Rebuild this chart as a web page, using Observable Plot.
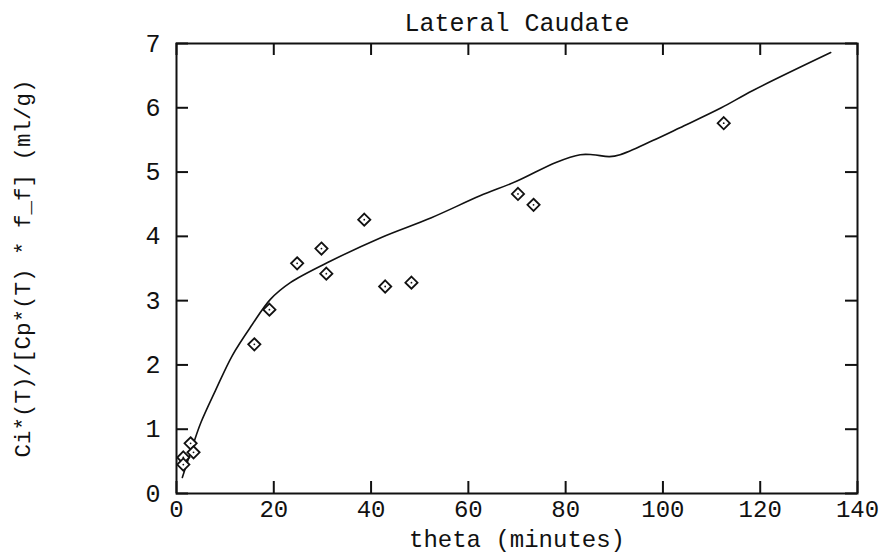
<!DOCTYPE html>
<html>
<head>
<meta charset="utf-8">
<script src="https://cdn.jsdelivr.net/npm/d3@7"></script>
<script src="https://cdn.jsdelivr.net/npm/@observablehq/plot@0.6"></script>
<style>
  html, body { margin: 0; padding: 0; background: #fff; }
  #chart svg { display: block; }
</style>
</head>
<body>
<div id="chart"></div>
<script>
const titleText = "Lateral Caudate";
const xLabel = "theta (minutes)";
const yLabel = "Ci*(T)/[Cp*(T) * f_f] (ml/g)";

const xTicks = [0, 20, 40, 60, 80, 100, 120, 140];
const yTicks = [0, 1, 2, 3, 4, 5, 6, 7];

// observed points
const obsTheta = [1.4, 1.4, 2.9, 3.5, 16.0, 19.1, 24.8, 29.8, 30.8, 38.6, 42.9, 48.3, 70.2, 73.4, 112.5];
const obsValue = [0.56, 0.45, 0.78, 0.64, 2.32, 2.86, 3.58, 3.81, 3.42, 4.26, 3.22, 3.28, 4.66, 4.49, 5.76];

// fitted curve
const fitTheta = [1.2, 2.5, 3.5, 5.0, 8.0, 11.5, 15.5, 19.3, 23.4, 31.8, 42.0, 52.4, 62.4, 70.0, 78.0, 83.0, 85.6, 89.0, 91.2, 97.9, 103.5, 112.0, 118.5, 134.5];
const fitValue = [0.25, 0.55, 0.78, 1.10, 1.60, 2.15, 2.62, 3.02, 3.28, 3.62, 3.98, 4.29, 4.63, 4.86, 5.15, 5.27, 5.27, 5.24, 5.27, 5.49, 5.69, 6.00, 6.27, 6.86];

const obs = obsTheta.map((x, i) => ({x, y: obsValue[i]}));
const fit = fitTheta.map((x, i) => ({x, y: fitValue[i]}));

const W = 881, H = 554;
const mL = 176, mR = 24, mT = 43, mB = 61;
const fw = W - mL - mR, fh = H - mT - mB;
const tk = 12;

const chart = Plot.plot({
  width: W,
  height: H,
  marginLeft: mL,
  marginRight: mR,
  marginTop: mT,
  marginBottom: mB,
  style: {fontFamily: "'Liberation Mono', 'DejaVu Sans Mono', monospace", fontSize: "24px", color: "#111", background: "#fff"},
  x: {domain: [0, 140]},
  y: {domain: [0, 7]},
  marks: [
    Plot.frame({stroke: "#111", strokeWidth: 2}),
    Plot.axisX(xTicks, {anchor: "bottom", tickSize: 0, tickPadding: 6, fontSize: 24, tickFormat: d3.format("d"), label: null}),
    Plot.text([xLabel], {frameAnchor: "bottom", dy: 46, textAnchor: "middle", lineAnchor: "middle", fontSize: 24, fill: "#111"}),
    Plot.axisY(yTicks, {anchor: "left", tickSize: 0, tickPadding: 16, fontSize: 25, tickFormat: d3.format("d"), label: null}),
    Plot.text([yLabel], {frameAnchor: "left", dx: -154, rotate: -90, textAnchor: "middle", lineAnchor: "middle", fontSize: 22.5, fill: "#111"}),
    Plot.tickX(xTicks, {x: d => d, insetTop: fh - tk, stroke: "#111", strokeWidth: 2}),
    Plot.tickX(xTicks, {x: d => d, insetBottom: fh - tk, stroke: "#111", strokeWidth: 2}),
    Plot.tickY(yTicks, {y: d => d, insetRight: fw - tk, stroke: "#111", strokeWidth: 2}),
    Plot.tickY(yTicks, {y: d => d, insetLeft: fw - tk, stroke: "#111", strokeWidth: 2}),
    Plot.line(fit, {x: "x", y: "y", curve: "catmull-rom", stroke: "#111", strokeWidth: 1.6}),
    Plot.dot(obs, {x: "x", y: "y", symbol: "diamond2", r: 5.5, stroke: "#111", fill: "#fff", strokeWidth: 1.8}),
    Plot.dot(obs, {x: "x", y: "y", r: 0.9, fill: "#111", stroke: null}),
    Plot.text([titleText], {frameAnchor: "top", dy: -21, textAnchor: "middle", lineAnchor: "middle", fontSize: 25, fill: "#111"})
  ]
});

document.getElementById("chart").appendChild(chart);
</script>
</body>
</html>
